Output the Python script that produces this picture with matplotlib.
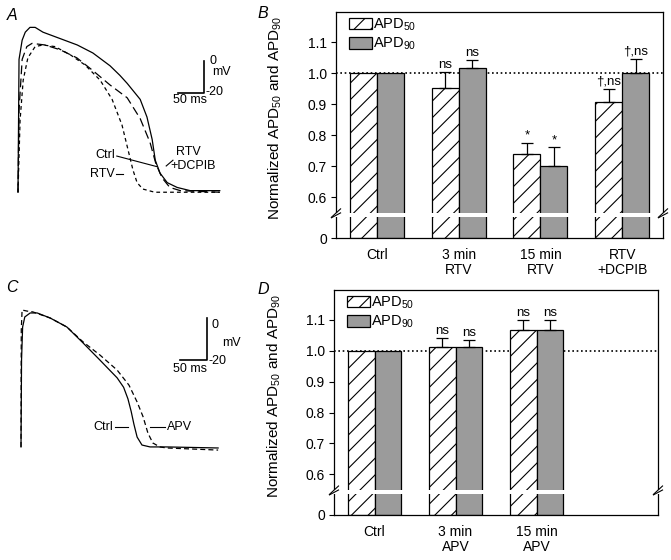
import numpy as np
import matplotlib
matplotlib.use("Agg")
import matplotlib.pyplot as plt
from matplotlib.patches import Patch, Rectangle

plt.rcParams['font.family'] = ['Liberation Sans', 'DejaVu Sans']
plt.rcParams['mathtext.fontset'] = 'custom'
plt.rcParams['mathtext.rm'] = 'Liberation Sans'
plt.rcParams['mathtext.it'] = 'Liberation Sans:italic'
plt.rcParams['hatch.linewidth'] = 0.8

######## data: action potentials (ms, mV)

# panel A
t_ctrl_a = [0, 2, 8, 14, 23, 33, 48, 81, 114, 144, 177, 196, 210, 235, 248, 258, 264, 273, 287, 306, 331, 388]
v_ctrl_a = [-82, 1, 13, 18, 21, 21, 18, 14, 10, 5, -3, -9, -14, -24, -35, -49, -62, -70, -76, -79, -81, -81]
t_rtv_a = [0, 4, 10, 19, 33, 48, 71, 100, 129, 158, 181, 200, 212, 221, 229, 240, 263, 388]
v_rtv_a = [-82, -37, -12, 2, 9, 10, 9, 4, -2.5, -12, -24, -40, -56, -68, -76, -80, -82, -82]
t_dcpib_a = [0, 2, 8, 17, 27, 52, 81, 113, 144, 177, 210, 235, 254, 265, 277, 292, 312, 388]
v_dcpib_a = [-82, -31, 1, 9, 11, 10, 7, 2, -6, -15, -23, -36, -51, -64, -73, -79, -81, -82]

# panel C
t_ctrl_c = [0, 1, 3, 7, 17, 30, 54, 85, 115, 146, 178, 190, 198, 204, 209, 215, 224, 239, 270, 365]
v_ctrl_c = [-61.4, -20, -4.3, 0.5, 2.4, 2.4, 0, -4.3, -11.9, -20, -28.5, -33, -38.5, -44.5, -50.5, -56.7, -60.5, -61.4, -61.4, -61.9]
t_apv_c = [0, 0.5, 2, 11, 22, 54, 85, 115, 146, 178, 200, 215, 226, 235, 244, 257, 270, 365]
v_apv_c = [-61.4, -5.7, 3.8, 3.3, 2.9, 0, -4.3, -11.4, -17.6, -24.8, -32, -40, -47, -54.8, -59.5, -61.4, -61.9, -62.9]

######## data: normalized APD

groups_b = ["Ctrl", "3 min\nRTV", "15 min\nRTV", "RTV\n+DCPIB"]
apd50_b = [1.0, 0.951, 0.739, 0.908]
apd50_err_b = [0, 0.053, 0.036, 0.040]
apd90_b = [1.0, 1.015, 0.701, 1.0]
apd90_err_b = [0, 0.026, 0.059, 0.046]
sig50_b = ["", "ns", "*", "\u2020,ns"]
sig90_b = ["", "ns", "*", "\u2020,ns"]

groups_d = ["Ctrl", "3 min\nAPV", "15 min\nAPV"]
apd50_d = [1.0, 1.013, 1.066]
apd50_err_d = [0, 0.027, 0.034]
apd90_d = [1.0, 1.012, 1.067]
apd90_err_d = [0, 0.023, 0.033]
sig50_d = ["", "ns", "ns"]
sig90_d = ["", "ns", "ns"]

yticks = [0, 0.6, 0.7, 0.8, 0.9, 1.0, 1.1]
yticklabels = ["0", "0.6", "0.7", "0.8", "0.9", "1.0", "1.1"]

########

W, H = 671, 560
fig = plt.figure(figsize=(W / 100, H / 100), dpi=100)

def px_axes(x0, y0, x1, y1):
    return fig.add_axes([x0 / W, 1 - y1 / H, (x1 - x0) / W, (y1 - y0) / H])

lw_tr = 0.9
fs_tr = 9

######## A

axA = px_axes(0, 0, 230, 210)
axA.axis("off")
axA.set_xlim(-34.6, 407.7)
axA.set_ylim(-93.1, 38.1)
axA.plot(t_ctrl_a, v_ctrl_a, color="k", lw=lw_tr)
axA.plot(t_dcpib_a, v_dcpib_a, color="k", lw=lw_tr, dashes=(7, 3.5))
axA.plot(t_rtv_a, v_rtv_a, color="k", lw=lw_tr, dashes=(3, 2.5))

# scale bar
axA.plot([307.7, 357.7, 357.7], [-20, -20, 0], color="k", lw=1.2)
axA.text(369, 0, "0", fontsize=fs_tr, ha="left", va="center")
axA.text(360, -19.5, "-20", fontsize=fs_tr, ha="left", va="center")
axA.text(374, -7, "mV", fontsize=fs_tr, ha="left", va="center")
axA.text(330, -24.5, "50 ms", fontsize=fs_tr, ha="center", va="center")

axA.text(167, -59, "Ctrl", fontsize=fs_tr, ha="center", va="center")
axA.plot([190, 267], [-59.4, -66], color="k", lw=0.8)
axA.text(163, -70.6, "RTV", fontsize=fs_tr, ha="center", va="center")
axA.plot([188, 202], [-70.3, -70.3], color="k", lw=0.8)
axA.text(327, -57, "RTV", fontsize=fs_tr, ha="center", va="center")
axA.text(337, -65.5, "+DCPIB", fontsize=fs_tr, ha="center", va="center")
axA.plot([298, 285], [-62, -65.6], color="k", lw=0.8)

######## C

axC = px_axes(0, 280, 230, 520)
axC.axis("off")
axC.set_xlim(-38.9, 387)
axC.set_ylim(-96.2, 18.1)
axC.plot(t_ctrl_c, v_ctrl_c, color="k", lw=lw_tr)
axC.plot(t_apv_c, v_apv_c, color="k", lw=lw_tr, dashes=(4, 2.5))

axC.plot([294.4, 344.4, 344.4], [-20, -20, 0], color="k", lw=1.2)
axC.text(353, -3.5, "0", fontsize=fs_tr, ha="left", va="center")
axC.text(348, -20.5, "-20", fontsize=fs_tr, ha="left", va="center")
axC.text(372, -12, "mV", fontsize=fs_tr, ha="left", va="center")
axC.text(313, -24.5, "50 ms", fontsize=fs_tr, ha="center", va="center")

axC.text(152, -52, "Ctrl", fontsize=fs_tr, ha="center", va="center")
axC.plot([174, 198], [-52, -52], color="k", lw=0.8)
axC.text(270, -52, "APV", fontsize=fs_tr, ha="left", va="center")
axC.plot([239, 267], [-52, -52], color="k", lw=0.8)

######## bar panels

BRK, Y0 = 0.535, 0.468

def fwd(v):
    v = np.asarray(v, dtype=float)
    return np.where(v >= BRK, v, Y0 + v * (BRK - Y0) / BRK)

def inv(u):
    u = np.asarray(u, dtype=float)
    return np.where(u >= BRK, u, (u - Y0) * BRK / (BRK - Y0))

grey = "#9b9b9b"
bw = 0.33
fs_bar = 10

def bar_panel(ax, groups, apd50, err50, apd90, err90, sig50, sig90):
    ax.set_yscale("function", functions=(fwd, inv))
    x = np.arange(len(groups))
    x50 = x - bw / 2
    x90 = x + bw / 2

    ax.axhline(1.0, color="k", lw=1.2, linestyle=(0, (1, 1.6)), zorder=0.5)

    ax.bar(x50, apd50, bw, color="white", edgecolor="k", hatch="//", linewidth=0.9, zorder=1)
    ax.bar(x90, apd90, bw, color=grey, edgecolor="k", linewidth=0.9, zorder=1)

    for xs, ys, es, ss in [(x50, apd50, err50, sig50), (x90, apd90, err90, sig90)]:
        for xi, yi, ei, si in zip(xs, ys, es, ss):
            if ei > 0:
                ax.errorbar(xi, yi, yerr=[[0], [ei]], fmt="none", ecolor="k",
                            elinewidth=0.9, capsize=4.3, capthick=0.9, zorder=2)
            if si:
                ax.text(xi, yi + ei + 0.004, si, fontsize=9.5, ha="center", va="bottom")

    ax.set_xlim(-0.5, 3.5)
    ax.set_ylim(0, 1.197)
    ax.set_yticks(yticks)
    ax.set_yticklabels(yticklabels)
    ax.set_xticks(x)
    ax.set_xticklabels(groups)
    for lab in ax.get_xticklabels():
        lab.set_linespacing(1.15)
    ax.tick_params(axis="x", length=0, pad=7, labelsize=fs_bar)
    ax.tick_params(axis="y", length=3.5, width=0.8, direction="out", labelsize=fs_bar, pad=3)
    for sp in ax.spines.values():
        sp.set_linewidth(0.9)

    ax.set_ylabel("Normalized APD$_{50}$ and APD$_{90}$", fontsize=11)
    ax.yaxis.set_label_coords(-0.158, 0.53)

    # axis break
    yt = ax.get_yaxis_transform()
    ax.add_patch(Rectangle((-0.03, BRK), 1.06, 0.013, transform=yt, facecolor="white",
                           edgecolor="none", zorder=5, clip_on=False))
    for xc in [0.0, 1.0]:
        for yc in [BRK, BRK + 0.013]:
            ax.plot([xc - 0.014, xc + 0.014], [yc - 0.014, yc + 0.014], color="k", lw=0.8,
                    transform=yt, clip_on=False, zorder=6)

    handles = [Patch(facecolor="white", edgecolor="k", hatch="//", linewidth=0.9),
               Patch(facecolor=grey, edgecolor="k", linewidth=0.9)]
    ax.legend(handles, ["APD$_{50}$", "APD$_{90}$"], loc="upper left",
              bbox_to_anchor=(0.04, 0.98), frameon=False, fontsize=10.5,
              handlelength=1.55, handleheight=0.85, handletextpad=0.1,
              labelspacing=0.2, borderaxespad=0, borderpad=0)

axB = px_axes(336, 12, 663, 238)
bar_panel(axB, groups_b, apd50_b, apd50_err_b, apd90_b, apd90_err_b, sig50_b, sig90_b)

axD = px_axes(334, 290, 658, 515)
bar_panel(axD, groups_d, apd50_d, apd50_err_d, apd90_d, apd90_err_d, sig50_d, sig90_d)

######## panel letters

for lab, xp, yp in [("A", 12, 15), ("B", 263, 13), ("C", 12, 287), ("D", 263, 289)]:
    fig.text(xp / W, 1 - yp / H, lab, fontsize=11.5, style="italic", ha="center", va="center")

plt.savefig("out.png", dpi=100)
